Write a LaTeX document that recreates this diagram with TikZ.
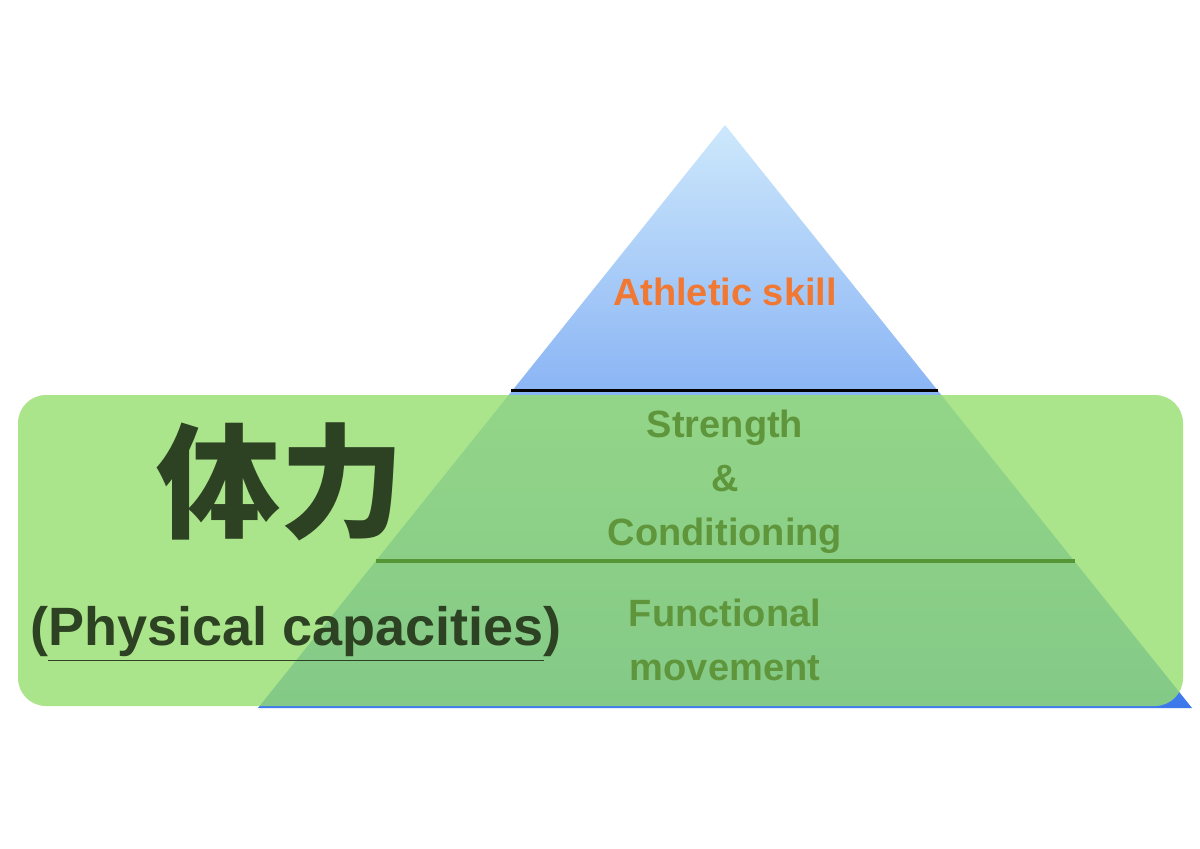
\documentclass[tikz,border=0pt]{standalone}
\usepackage{fontspec}
\setmainfont{Liberation Sans}
\newfontfamily\cjk{Noto Sans CJK JP}
\usetikzlibrary{shapes.geometric}
\definecolor{topblue}{RGB}{205,232,252}
\definecolor{botblue}{RGB}{60,120,235}
\definecolor{rectgreen}{RGB}{150,222,110}
\definecolor{txtgreen}{RGB}{95,150,60}
\definecolor{linegreen}{RGB}{85,150,55}
\definecolor{darkgreen}{RGB}{45,65,35}
\definecolor{orangetxt}{RGB}{240,120,50}
\tikzset{lvl/.style={font=\bfseries\fontsize{19}{22}\selectfont, text=txtgreen, align=center}}
\begin{document}
\begin{tikzpicture}[x=0.5pt,y=-0.5pt]
\useasboundingbox (0,0) rectangle (1200,848);
\coordinate (apex) at (725,125);
\coordinate (bl) at (258,708);
\coordinate (br) at (1192,708);
\begin{scope}
\clip (apex) -- (bl) -- (br) -- cycle;
\shade[top color=topblue, bottom color=botblue] (250,125) rectangle (1200,708);
\end{scope}
\fill[rectgreen, opacity=0.8, rounded corners=14pt] (18,395) rectangle (1183,706);
\draw[line width=1.5pt, black] (511,390) -- (938,390);
\draw[line width=1.6pt, linegreen] (376,561) -- (1075,561);
\node[font=\bfseries\fontsize{19}{22}\selectfont, text=orangetxt] (ath) at (725,292) {Athletic skill};
\node[lvl] (sc) at (725,482) {Strength\\[5pt]\&\\[5pt]Conditioning};
\node[lvl] (fm) at (725,640) {Functional\\[5pt]movement};
\node[font=\cjk\bfseries\fontsize{62}{64}\selectfont, text=darkgreen] (tai) at (280,482) {体力};
\node[font=\bfseries\fontsize{27}{30}\selectfont, text=darkgreen] (phys) at (296,634) {(\underline{Physical capacities})};
\end{tikzpicture}
\end{document}
